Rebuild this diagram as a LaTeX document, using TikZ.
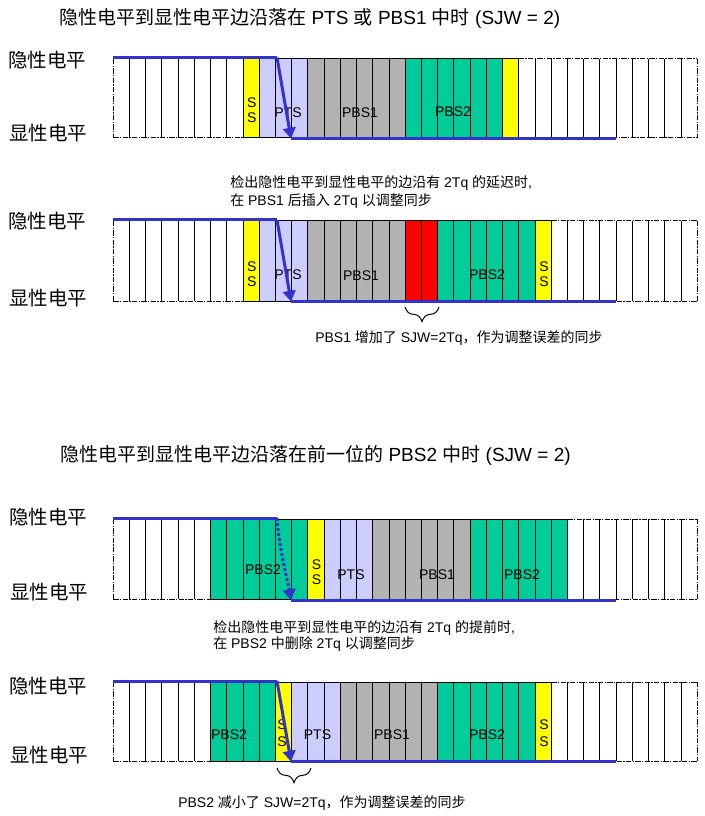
\documentclass[tikz,border=0pt]{standalone}
\usepackage{fontspec}
\setmainfont{Liberation Sans}
\newfontfamily\zhfont{Noto Sans CJK SC}
\newcommand{\zh}[1]{{\zhfont #1}}
\usetikzlibrary{arrows.meta,decorations.pathreplacing}
\definecolor{sigblue}{RGB}{51,51,204}
\definecolor{ssyellow}{RGB}{255,255,0}
\definecolor{ptsviolet}{RGB}{204,204,255}
\definecolor{pbsgray}{RGB}{178,178,178}
\definecolor{pbsgreen}{RGB}{0,204,153}
\definecolor{sjwred}{RGB}{255,0,0}
\newcommand{\colseg}[5]{%
  \fill[#5] ({113.3+#3*16.22},#1) rectangle ({113.3+#4*16.22},#2);
  \foreach \k in {#3,...,#4}{\draw[cellline] ({113.3+\k*16.22},#1) -- ({113.3+\k*16.22},#2);}
  \draw[cellline] ({113.3+#3*16.22},#1) -- ({113.3+#4*16.22},#1);
  \draw[cellline] ({113.3+#3*16.22},#2) -- ({113.3+#4*16.22},#2);
}
\newcommand{\whseg}[4]{%
  \foreach \k in {#3,...,#4}{%
    \ifnum\k=0 \def\vst{ddline}\else\ifnum\k=36 \def\vst{ddline}\else\def\vst{cellline}\fi\fi
    \draw[\vst] ({113.3+\k*16.22},#1) -- ({113.3+\k*16.22},#2);}
  \draw[ddline] ({113.3+#3*16.22},#1) -- ({113.3+#4*16.22},#1);
  \draw[ddline] ({113.3+#3*16.22},#2) -- ({113.3+#4*16.22},#2);
}
\begin{document}
\begin{tikzpicture}[x=0.75pt,y=-0.75pt,
  cellline/.style={black, line width=0.75pt},
  ddline/.style={black, line width=0.75pt, dash pattern=on 4pt off 1pt on 1pt off 1pt},
  sig/.style={sigblue, line width=2.25pt},
  sigarrow/.style={sigblue, line width=2.25pt, -{Triangle[length=8pt,width=9.5pt]}},
  level/.style={font=\zhfont\fontsize{14.6pt}{16pt}\selectfont, anchor=west, inner sep=0},
  title/.style={font=\fontsize{14.25pt}{16pt}\selectfont, anchor=west, inner sep=0},
  note/.style={font=\fontsize{10.5pt}{12pt}\selectfont, anchor=west, inner sep=0},
  cellt/.style={font=\fontsize{10.5pt}{12pt}\selectfont, inner sep=0},
  brc/.style={decorate, decoration={brace, mirror, amplitude=11pt}, line width=0.75pt}
]
\useasboundingbox (0,0) rectangle (705,816);
\fill[white] (0,0) rectangle (705,816);

% ---------- titles ----------
\node[title] (t1) at (59,18) {\zh{隐性电平到显性电平边沿落在} PTS \zh{或} PBS1 \zh{中时} (SJW = 2)};
\node[title] (t2) at (60,455) {\zh{隐性电平到显性电平边沿落在前一位的} PBS2 \zh{中时} (SJW = 2)};

% ---------- row 1 ----------
\whseg{59}{138}{0}{8}
\colseg{59}{138}{8}{9}{ssyellow}
\colseg{59}{138}{9}{12}{ptsviolet}
\colseg{59}{138}{12}{18}{pbsgray}
\colseg{59}{138}{18}{24}{pbsgreen}
\colseg{59}{138}{24}{25}{ssyellow}
\whseg{59}{138}{25}{36}
\node[cellt] (r1s1) at (251.7,103) {S};
\node[cellt] (r1s2) at (251.7,118) {S};
\node[cellt] (r1pts) at (288,113) {PTS};
\node[cellt] (r1pbs1) at (360,113) {PBS1};
\node[cellt] (r1pbs2) at (453,112) {PBS2};
\node[level] (r1hi) at (8,60) {隐性电平};
\node[level] (r1lo) at (9,133) {显性电平};
\coordinate (h1a) at (113,57.5); \coordinate (h1b) at (277,57.5);
\coordinate (l1a) at (291,138.5); \coordinate (l1b) at (616,138.5);
\draw[sig] (h1a) -- (h1b);
\draw[sig] (l1a) -- (l1b);
\draw[sigarrow] (h1b) -- (l1a);

% ---------- row 2 ----------
\node[note] (n2a) at (230,183) {\zh{检出隐性电平到显性电平的边沿有} 2Tq \zh{的延迟时},};
\node[note] (n2b) at (230,201) {\zh{在} PBS1 \zh{后插入} 2Tq \zh{以调整同步}};
\whseg{221}{301}{0}{8}
\colseg{221}{301}{8}{9}{ssyellow}
\colseg{221}{301}{9}{12}{ptsviolet}
\colseg{221}{301}{12}{18}{pbsgray}
\colseg{221}{301}{18}{20}{sjwred}
\colseg{221}{301}{20}{26}{pbsgreen}
\colseg{221}{301}{26}{27}{ssyellow}
\whseg{221}{301}{27}{36}
\node[cellt] (r2s1) at (251.7,267) {S};
\node[cellt] (r2s2) at (251.7,282) {S};
\node[cellt] (r2pts) at (288,275) {PTS};
\node[cellt] (r2pbs1) at (361,276) {PBS1};
\node[cellt] (r2pbs2) at (487,275) {PBS2};
\node[cellt] (r2s3) at (544,267) {S};
\node[cellt] (r2s4) at (544,282) {S};
\node[level] (r2hi) at (8,221) {隐性电平};
\node[level] (r2lo) at (9,298) {显性电平};
\coordinate (h2a) at (113,220); \coordinate (h2b) at (277,220);
\coordinate (l2a) at (291,301.5); \coordinate (l2b) at (616,301.5);
\draw[sig] (h2a) -- (h2b);
\draw[sig] (l2a) -- (l2b);
\draw[sigarrow] (h2b) -- (l2a);
\coordinate (b2a) at (405,307); \coordinate (b2b) at (439,307);
\draw[brc] (b2a) -- (b2b);
\node[note] (n2c) at (315,338) {PBS1 \zh{增加了} SJW=2Tq\zh{，作为调整误差的同步}};

% ---------- row 3 ----------
\whseg{519}{599}{0}{6}
\colseg{519}{599}{6}{12}{pbsgreen}
\colseg{519}{599}{12}{13}{ssyellow}
\colseg{519}{599}{13}{16}{ptsviolet}
\colseg{519}{599}{16}{22}{pbsgray}
\colseg{519}{599}{22}{28}{pbsgreen}
\whseg{519}{599}{28}{36}
\node[cellt] (r3pbs2a) at (263,570) {PBS2};
\node[cellt] (r3s1) at (316.5,565) {S};
\node[cellt] (r3s2) at (316.5,580) {S};
\node[cellt] (r3pts) at (351,575) {PTS};
\node[cellt] (r3pbs1) at (437,575) {PBS1};
\node[cellt] (r3pbs2b) at (522,575) {PBS2};
\node[level] (r3hi) at (9,517) {隐性电平};
\node[level] (r3lo) at (10,592) {显性电平};
\coordinate (h3a) at (113,518); \coordinate (h3b) at (277,518);
\coordinate (l3a) at (291,600); \coordinate (l3b) at (616,600);
\draw[sig] (h3a) -- (h3b);
\draw[sig] (l3a) -- (l3b);
\draw[sigarrow, dash pattern=on 2.2pt off 1.6pt] (h3b) .. controls (279,548) and (287,578) .. (l3a);
\node[note] (n3a) at (213,628) {\zh{检出隐性电平到显性电平的边沿有} 2Tq \zh{的提前时},};
\node[note] (n3b) at (213,644) {\zh{在} PBS2 \zh{中删除} 2Tq \zh{以调整同步}};

% ---------- row 4 ----------
\whseg{682}{761}{0}{6}
\colseg{682}{761}{6}{10}{pbsgreen}
\colseg{682}{761}{10}{11}{ssyellow}
\colseg{682}{761}{11}{14}{ptsviolet}
\colseg{682}{761}{14}{20}{pbsgray}
\colseg{682}{761}{20}{26}{pbsgreen}
\colseg{682}{761}{26}{27}{ssyellow}
\whseg{682}{761}{27}{36}
\node[cellt] (r4pbs2a) at (229,735) {PBS2};
\node[cellt] (r4s1) at (282,725) {S};
\node[cellt] (r4s2) at (282,742) {S};
\node[cellt] (r4pts) at (317.5,735) {PTS};
\node[cellt] (r4pbs1) at (392,735) {PBS1};
\node[cellt] (r4pbs2b) at (487,735) {PBS2};
\node[cellt] (r4s3) at (544,725) {S};
\node[cellt] (r4s4) at (544,742) {S};
\node[level] (r4hi) at (9,686) {隐性电平};
\node[level] (r4lo) at (10,755) {显性电平};
\coordinate (h4a) at (113,681); \coordinate (h4b) at (277,681);
\coordinate (l4a) at (291,761.5); \coordinate (l4b) at (616,761.5);
\draw[sig] (h4a) -- (h4b);
\draw[sig] (l4a) -- (l4b);
\draw[sigarrow] (h4b) -- (l4a);
\coordinate (b4a) at (277,768); \coordinate (b4b) at (311,768);
\draw[brc] (b4a) -- (b4b);
\node[note] (n4c) at (178,803) {PBS2 \zh{减小了} SJW=2Tq\zh{，作为调整误差的同步}};
\end{tikzpicture}
\end{document}
